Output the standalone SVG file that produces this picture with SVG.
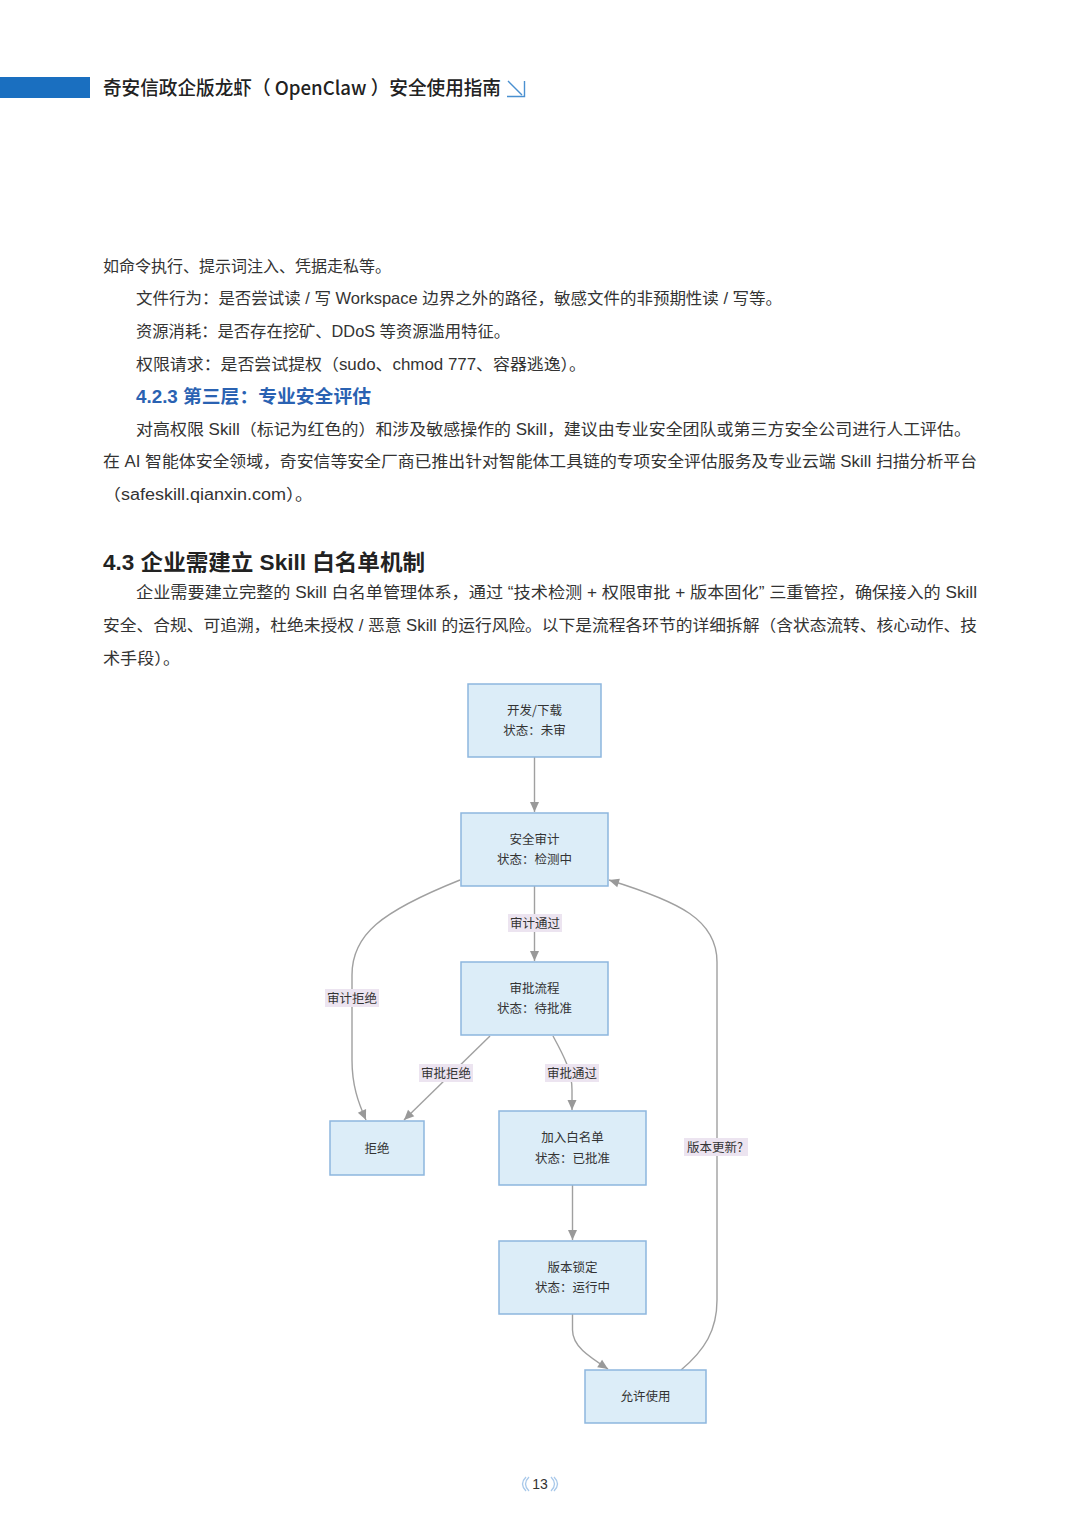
<svg xmlns="http://www.w3.org/2000/svg" width="1080" height="1527" viewBox="0 0 1080 1527">
<style>
  .t{font-family:"Liberation Sans","Noto Sans CJK SC",sans-serif;fill:#333}
  .body{font-size:16px}
  .node rect{fill:#dcedf8;stroke:#8db6de;stroke-width:1.5}
  .node text{font-family:"Noto Sans CJK SC","Liberation Sans",sans-serif;font-size:12.5px;fill:#333;text-anchor:middle}
  .edge{fill:none;stroke:#a0a0a0;stroke-width:1.4}
  .lbl rect{fill:#ece4f0}
  .lbl text{font-family:"Noto Sans CJK SC","Liberation Sans",sans-serif;font-size:12.5px;fill:#333;text-anchor:middle}
</style>
<defs>
  <marker id="arr" markerUnits="userSpaceOnUse" markerWidth="12" markerHeight="12" viewBox="0 0 12 12" refX="11" refY="6" orient="auto">
    <path d="M1,1.5 L11,6 L1,10.5 Z" fill="#999"/>
  </marker>
</defs>
<rect width="1080" height="1527" fill="#fff"/>

<!-- header -->
<g id="header">
  <rect x="0" y="77" width="90" height="21" fill="#1a6fc0"/>
  <text x="103" y="94.5" font-family="Noto Sans CJK SC, Liberation Sans, sans-serif" font-size="19" font-weight="500" fill="#222" textLength="398" lengthAdjust="spacingAndGlyphs">奇安信政企版龙虾（ OpenClaw ）安全使用指南</text>
  <path d="M508,81 L522,95 M507,96.5 L524.5,96.5 L524.5,81" fill="none" stroke="#4a90d0" stroke-width="1.4"/>
</g>

<!-- body text -->
<g id="text">
  <text class="t body" x="103" y="272" textLength="288" lengthAdjust="spacingAndGlyphs">如命令执行、提示词注入、凭据走私等。</text>
  <text class="t body" x="136" y="304" textLength="646" lengthAdjust="spacingAndGlyphs">文件行为：是否尝试读 / 写 Workspace 边界之外的路径，敏感文件的非预期性读 / 写等。</text>
  <text class="t body" x="136" y="337" textLength="374" lengthAdjust="spacingAndGlyphs">资源消耗：是否存在挖矿、DDoS 等资源滥用特征。</text>
  <text class="t body" x="136" y="370" textLength="450" lengthAdjust="spacingAndGlyphs">权限请求：是否尝试提权（sudo、chmod 777、容器逃逸）。</text>
  <text class="t" x="136" y="403" font-size="18.5" font-weight="bold" style="fill:#2a62b2" textLength="235" lengthAdjust="spacingAndGlyphs">4.2.3 第三层：专业安全评估</text>
  <text class="t body" x="136" y="435" textLength="835" lengthAdjust="spacingAndGlyphs">对高权限 Skill（标记为红色的）和涉及敏感操作的 Skill，建议由专业安全团队或第三方安全公司进行人工评估。</text>
  <text class="t body" x="103" y="467" textLength="874" lengthAdjust="spacingAndGlyphs">在 AI 智能体安全领域，奇安信等安全厂商已推出针对智能体工具链的专项安全评估服务及专业云端 Skill 扫描分析平台</text>
  <text class="t body" x="103" y="500" textLength="210" lengthAdjust="spacingAndGlyphs">（safeskill.qianxin.com）。</text>
  <text class="t" x="103" y="570" font-size="22" font-weight="bold" style="fill:#222" textLength="322" lengthAdjust="spacingAndGlyphs">4.3 企业需建立 Skill 白名单机制</text>
  <text class="t body" x="136" y="598" textLength="841" lengthAdjust="spacingAndGlyphs">企业需要建立完整的 Skill 白名单管理体系，通过 “技术检测 + 权限审批 + 版本固化” 三重管控，确保接入的 Skill</text>
  <text class="t body" x="103" y="631" textLength="874" lengthAdjust="spacingAndGlyphs">安全、合规、可追溯，杜绝未授权 / 恶意 Skill 的运行风险。以下是流程各环节的详细拆解（含状态流转、核心动作、技</text>
  <text class="t body" x="103" y="664" textLength="77" lengthAdjust="spacingAndGlyphs">术手段）。</text>
</g>

<!-- connectors -->
<g id="connectors">
  <path class="edge" marker-end="url(#arr)" d="M534.5,757 L534.5,812"/>
  <path class="edge" marker-end="url(#arr)" d="M534.5,886 L534.5,961"/>
  <path class="edge" marker-end="url(#arr)" d="M460,880 C380,912 352,935 352,975 L352,1060 C352,1085 358,1102 366,1120"/>
  <path class="edge" marker-end="url(#arr)" d="M490,1036 L404,1120"/>
  <path class="edge" marker-end="url(#arr)" d="M553,1036 C565,1058 572,1072 572,1090 L572,1110"/>
  <path class="edge" marker-end="url(#arr)" d="M572.5,1185 L572.5,1240"/>
  <path class="edge" marker-end="url(#arr)" d="M572.5,1314 L572.5,1330 C572.5,1346 588,1356 608,1369"/>
  <path class="edge" marker-end="url(#arr)" d="M681,1370 C705,1350 717,1330 717,1300 L717,962 C717,920 680,902 609,880"/>
</g>

<!-- edge labels -->
<g id="labels">
  <g class="lbl"><rect x="508" y="914" width="54" height="18"/><text x="535" y="928">审计通过</text></g>
  <g class="lbl"><rect x="325" y="989" width="54" height="18"/><text x="352" y="1003">审计拒绝</text></g>
  <g class="lbl"><rect x="419" y="1064" width="54" height="18"/><text x="446" y="1078">审批拒绝</text></g>
  <g class="lbl"><rect x="545" y="1064" width="54" height="18"/><text x="572" y="1078">审批通过</text></g>
  <g class="lbl"><rect x="684" y="1138" width="64" height="18"/><text x="715" y="1152">版本更新?</text></g>
</g>

<!-- nodes -->
<g id="n-download" class="node"><rect x="468" y="684" width="133" height="73"/><text x="534.5" y="714.5">开发/下载</text><text x="534.5" y="735">状态：未审</text></g>
<g id="n-audit" class="node"><rect x="461" y="813" width="147" height="73"/><text x="534.5" y="843.5">安全审计</text><text x="534.5" y="864">状态：检测中</text></g>
<g id="n-approve" class="node"><rect x="461" y="962" width="147" height="73"/><text x="534.5" y="992.5">审批流程</text><text x="534.5" y="1013">状态：待批准</text></g>
<g id="n-reject" class="node"><rect x="330" y="1121" width="94" height="54"/><text x="377" y="1152.5">拒绝</text></g>
<g id="n-whitelist" class="node"><rect x="499" y="1111" width="147" height="74"/><text x="572.5" y="1142">加入白名单</text><text x="572.5" y="1162.5">状态：已批准</text></g>
<g id="n-lock" class="node"><rect x="499" y="1241" width="147" height="73"/><text x="572.5" y="1271.5">版本锁定</text><text x="572.5" y="1292">状态：运行中</text></g>
<g id="n-allow" class="node"><rect x="585" y="1370" width="121" height="53"/><text x="645.5" y="1401">允许使用</text></g>

<!-- page number -->
<g id="footer">
  <path d="M526,1477 Q519,1484 526,1491 M529,1477 Q522,1484 529,1491 M551,1477 Q558,1484 551,1491 M554,1477 Q561,1484 554,1491" fill="none" stroke="#a9c9ea" stroke-width="1.3"/>
  <text class="t" x="540" y="1489" font-size="14" text-anchor="middle">13</text>
</g>
</svg>
